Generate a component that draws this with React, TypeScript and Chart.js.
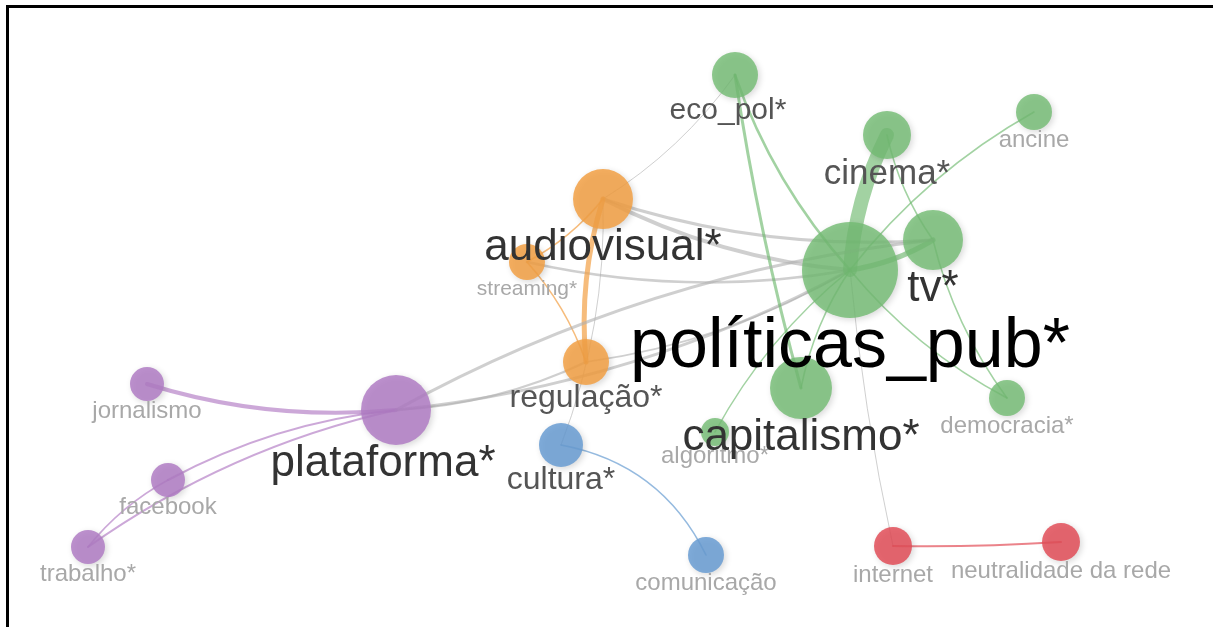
import React, { useEffect, useRef } from "react";
import { Chart, registerables } from "chart.js";

Chart.register(...registerables);

// ---- Data (VOSviewer-style co-occurrence map) ----
const nodeLabels = [
  "eco_pol*", "ancine", "cinema*", "audiovisual*", "tv*", "políticas_pub*",
  "streaming*", "regulação*", "capitalismo*", "democracia*", "algoritmo*",
  "plataforma*", "cultura*", "jornalismo", "facebook", "trabalho*",
  "comunicação", "internet", "neutralidade da rede",
];
const nodeX = [735, 1034, 887, 603, 933, 850, 527, 586, 801, 1007, 715, 396, 561, 147, 168, 88, 706, 893, 1061];
const nodeY = [75, 112, 135, 199, 240, 270, 262, 362, 388, 398, 432, 410, 445, 384, 480, 547, 555, 546, 542];
const nodeWeight = [23, 18, 24, 30, 30, 48, 18, 23, 31, 18, 14, 35, 22, 17, 17, 17, 18, 19, 19];
const nodeCluster = [2, 2, 2, 3, 2, 2, 3, 3, 2, 2, 2, 4, 5, 4, 4, 4, 5, 1, 1];

const edgeFrom = [
  "audiovisual*", "audiovisual*", "streaming*", "plataforma*", "plataforma*", "regulação*",
  "audiovisual*", "cultura*", "políticas_pub*", "audiovisual*", "streaming*", "regulação*",
  "eco_pol*", "eco_pol*", "cinema*", "cinema*", "políticas_pub*", "ancine", "políticas_pub*",
  "tv*", "políticas_pub*", "políticas_pub*", "jornalismo", "plataforma*", "plataforma*", "facebook",
  "comunicação", "internet", "tv*",
];
const edgeTo = [
  "políticas_pub*", "tv*", "políticas_pub*", "políticas_pub*", "regulação*", "políticas_pub*",
  "eco_pol*", "audiovisual*", "internet", "regulação*", "audiovisual*", "streaming*",
  "capitalismo*", "políticas_pub*", "políticas_pub*", "tv*", "tv*", "políticas_pub*", "democracia*",
  "democracia*", "capitalismo*", "algoritmo*", "plataforma*", "facebook", "trabalho*", "trabalho*",
  "cultura*", "neutralidade da rede", "plataforma*",
];
const edgeWeight = [4, 3, 2.5, 3, 2, 1.5, 1, 1, 1, 5, 1.5, 1.5, 3, 2.5, 14, 1.5, 5, 1.5, 1.5, 1.5, 1.5, 1.5, 4, 2, 2, 1.5, 1.5, 2, 3];

// ---- Styles ----
const clusterFill: Record<number, string> = {
  1: "rgba(226,78,88,0.85)",
  2: "rgba(116,188,116,0.82)",
  3: "rgba(242,160,68,0.85)",
  4: "rgba(176,124,196,0.85)",
  5: "rgba(104,156,210,0.85)",
};
const clusterEdge: Record<number, string> = {
  1: "rgba(226,78,88,0.7)",
  2: "rgba(100,180,100,0.6)",
  3: "rgba(242,160,68,0.7)",
  4: "rgba(170,110,190,0.6)",
  5: "rgba(104,156,210,0.7)",
};
const labelFont: Record<string, number> = {
  "políticas_pub*": 70, "plataforma*": 44, "audiovisual*": 44, "capitalismo*": 44, "tv*": 44,
  "cinema*": 35, "eco_pol*": 30, "regulação*": 32, "cultura*": 32, "streaming*": 21,
};
const labelColorFor = (size: number) =>
  size >= 60 ? "#000000" : size >= 40 ? "#333333" : size >= 28 ? "#555555" : "#a8a8a8";
const labelDx: Record<string, number> = { "plataforma*": -13, "eco_pol*": -7 };
const edgeBend: Record<number, number> = { 26: 0.25, 27: 0.02, 12: 0.03, 8: 0.03 };
const FONT = 'Arial, "Liberation Sans", sans-serif';

const idx = (name: string) => nodeLabels.indexOf(name);

const networkPlugin = {
  id: "network",
  beforeDatasetsDraw(chart: any) {
    const ctx = chart.ctx;
    const xs = chart.scales.x;
    const ys = chart.scales.y;
    ctx.save();
    ctx.fillStyle = "#000";
    ctx.fillRect(6, 5, chart.width - 6, 3);
    ctx.fillRect(6, 5, 3, chart.height - 5);
    ctx.lineCap = "round";
    edgeFrom.forEach((f, i) => {
      const a = idx(f);
      const b = idx(edgeTo[i]);
      const x1 = xs.getPixelForValue(nodeX[a]);
      const y1 = ys.getPixelForValue(nodeY[a]);
      const x2 = xs.getPixelForValue(nodeX[b]);
      const y2 = ys.getPixelForValue(nodeY[b]);
      const dx = x2 - x1;
      const dy = y2 - y1;
      const k = edgeBend[i] ?? 0.1;
      const cx = (x1 + x2) / 2 - dy * k;
      const cy = (y1 + y2) / 2 + dx * k;
      ctx.beginPath();
      ctx.moveTo(x1, y1);
      ctx.quadraticCurveTo(cx, cy, x2, y2);
      ctx.lineWidth = edgeWeight[i];
      ctx.strokeStyle =
        nodeCluster[a] === nodeCluster[b] ? clusterEdge[nodeCluster[a]] : "rgba(175,175,175,0.6)";
      ctx.stroke();
    });
    ctx.restore();
  },
  beforeDatasetDraw(chart: any) {
    const ctx = chart.ctx;
    ctx.save();
    ctx.shadowColor = "rgba(0,0,0,0.18)";
    ctx.shadowBlur = 6;
    ctx.shadowOffsetX = 2;
    ctx.shadowOffsetY = 2;
  },
  afterDatasetDraw(chart: any) {
    chart.ctx.restore();
  },
  afterDatasetsDraw(chart: any) {
    const ctx = chart.ctx;
    const xs = chart.scales.x;
    const ys = chart.scales.y;
    ctx.save();
    ctx.textAlign = "center";
    ctx.textBaseline = "alphabetic";
    const sizeOf = (i: number) => labelFont[nodeLabels[i]] ?? 24;
    const order = nodeLabels.map((_, i) => i).sort((p, q) => sizeOf(p) - sizeOf(q));
    order.forEach((i) => {
      const size = sizeOf(i);
      const x = xs.getPixelForValue(nodeX[i]) + (labelDx[nodeLabels[i]] || 0);
      const y = ys.getPixelForValue(nodeY[i]) + nodeWeight[i] + size * 0.7;
      ctx.font = `${size}px ${FONT}`;
      ctx.fillStyle = labelColorFor(size);
      ctx.fillText(nodeLabels[i], x, y);
    });
    ctx.restore();
  },
};

export default function App() {
  const ref = useRef<HTMLCanvasElement | null>(null);
  useEffect(() => {
    if (!ref.current) return;
    const chart = new Chart(ref.current, {
      type: "bubble",
      data: {
        datasets: [
          {
            data: nodeLabels.map((_, i) => ({ x: nodeX[i], y: nodeY[i], r: nodeWeight[i] })),
            backgroundColor: nodeCluster.map((c) => clusterFill[c]),
            borderWidth: 0,
            hoverBorderWidth: 0,
            clip: false,
          } as any,
        ],
      },
      options: {
        animation: false,
        responsive: false,
        events: [],
        layout: { padding: 0, autoPadding: false },
        plugins: { legend: { display: false }, tooltip: { enabled: false } },
        scales: {
          x: { type: "linear", min: 0, max: 1213, display: false },
          y: { type: "linear", min: 0, max: 627, reverse: true, display: false },
        },
      } as any,
      plugins: [networkPlugin],
    });
    return () => chart.destroy();
  }, []);
  return (
    <div style={{ position: "fixed", left: 0, top: 0, width: 1213, height: 627, background: "#fff" }}>
      <canvas ref={ref} width={1213} height={627} style={{ display: "block" }} />
    </div>
  );
}
